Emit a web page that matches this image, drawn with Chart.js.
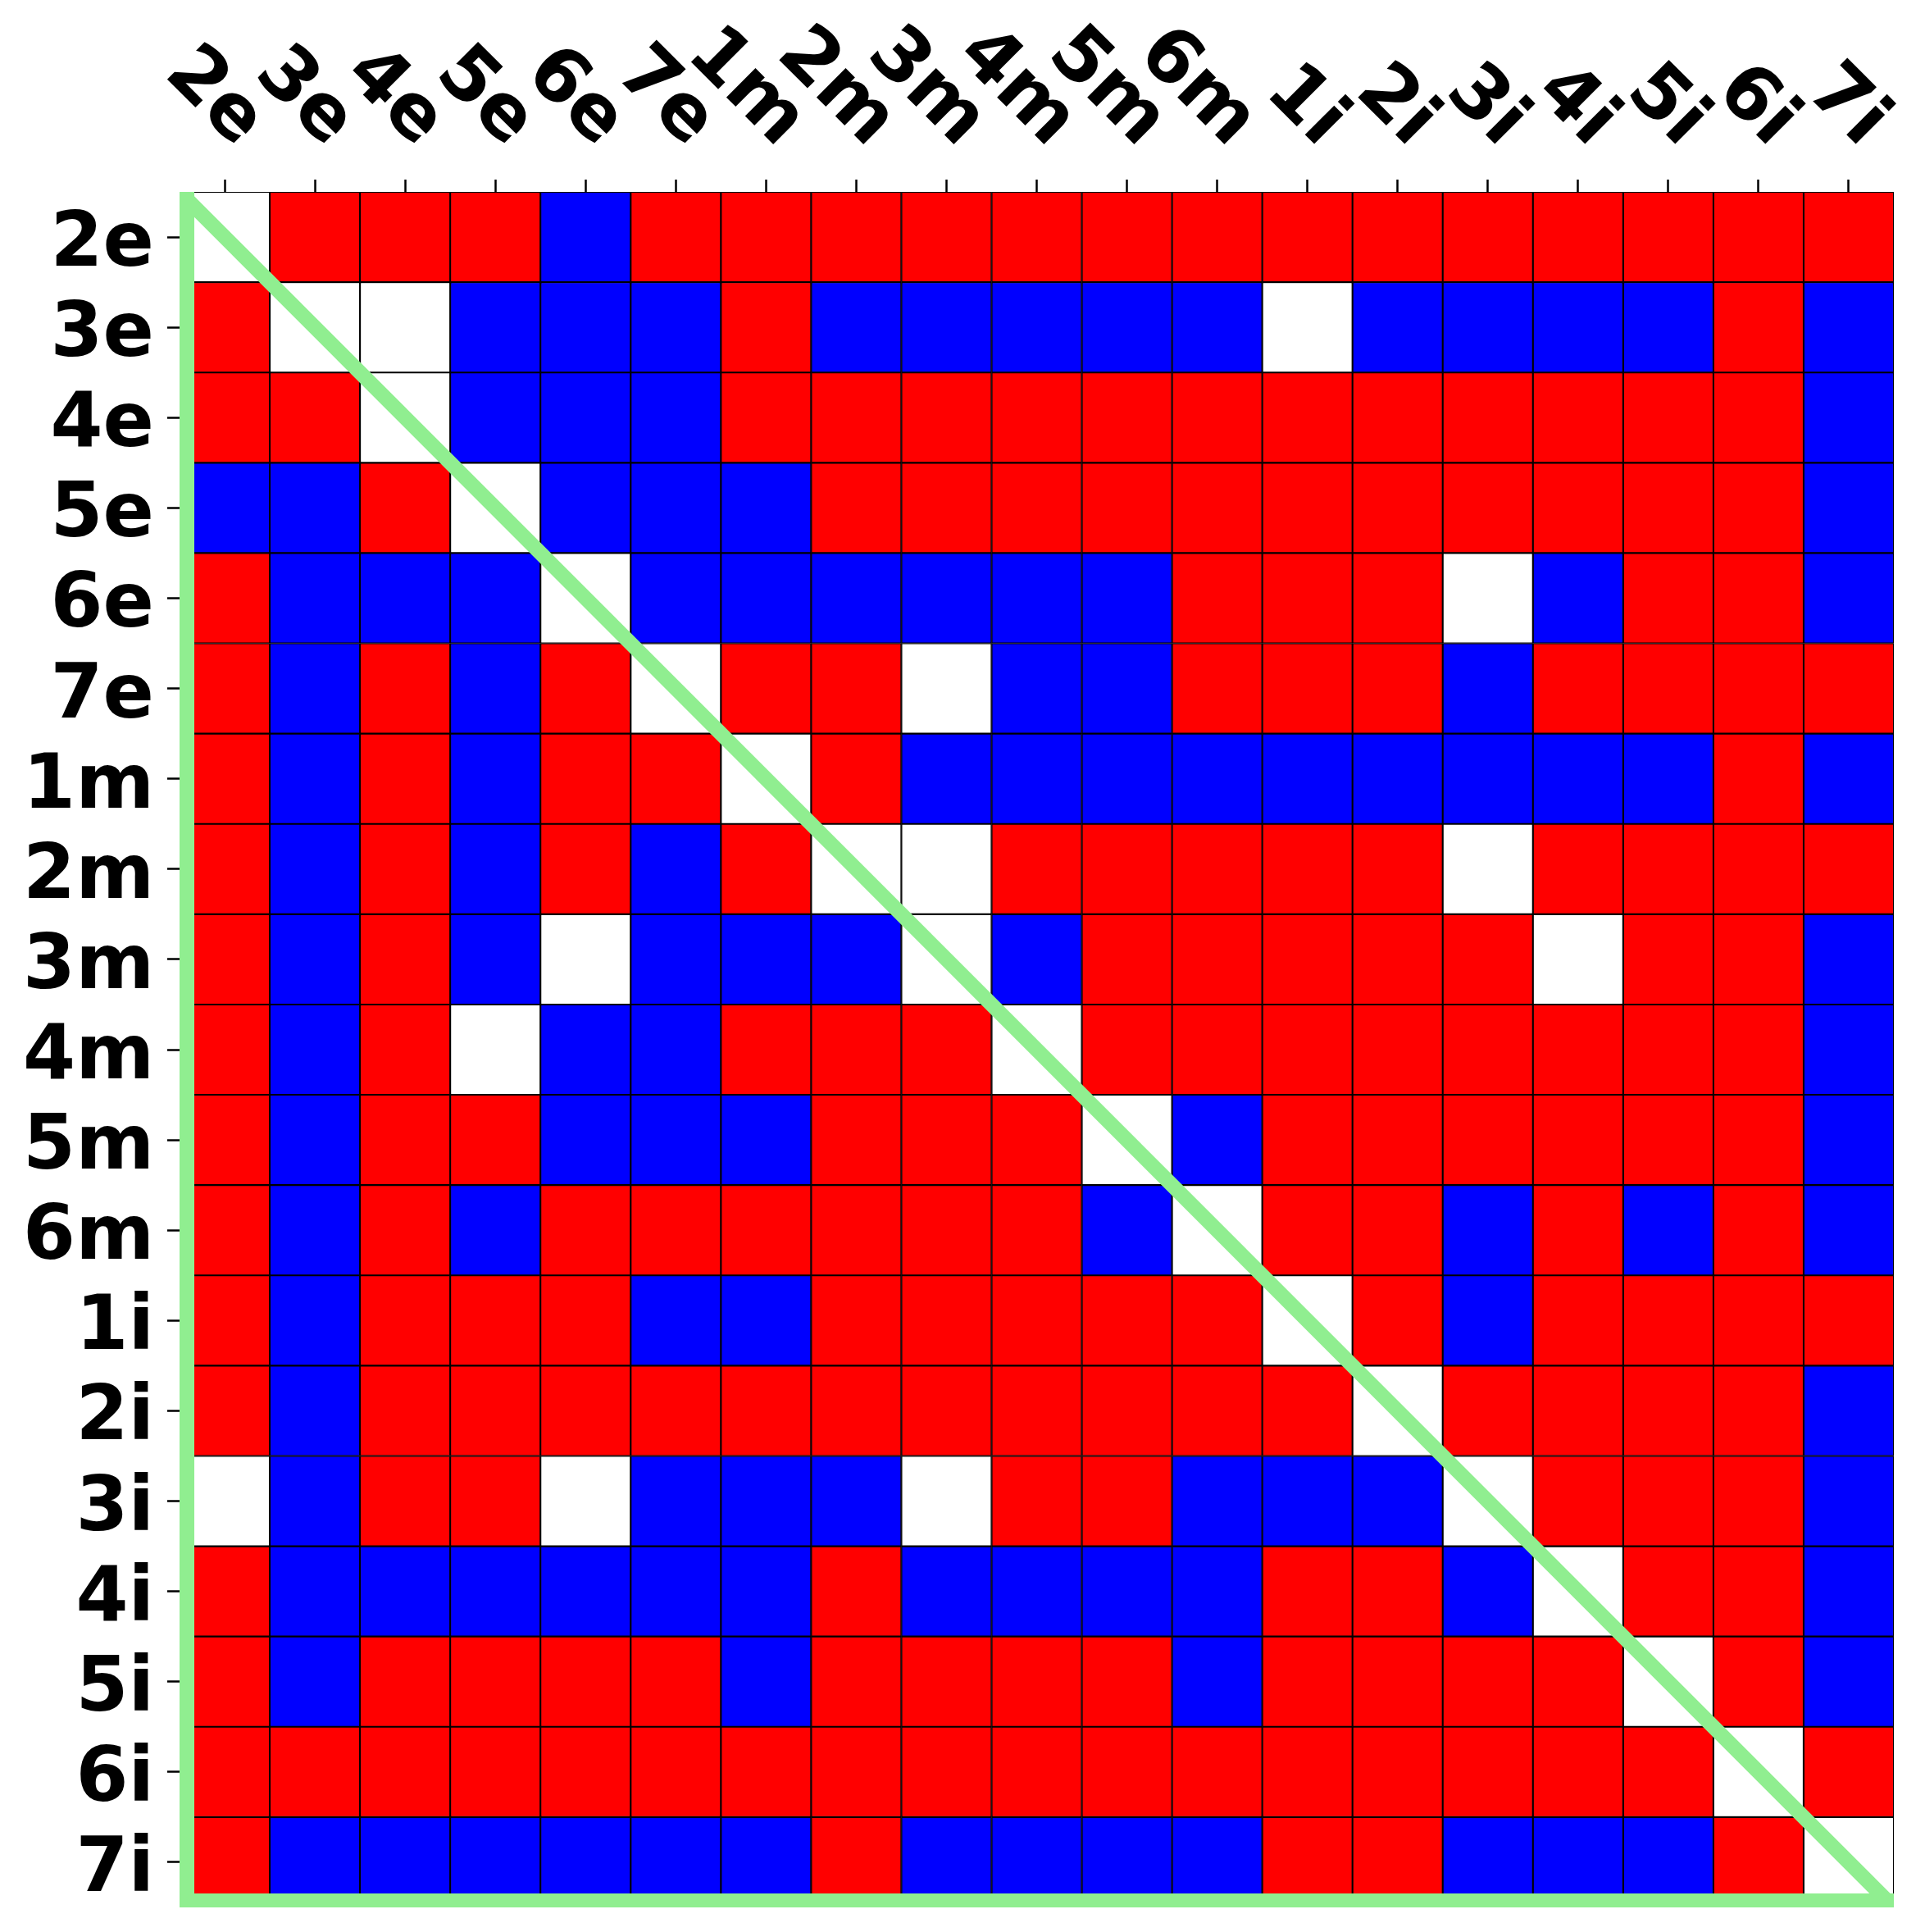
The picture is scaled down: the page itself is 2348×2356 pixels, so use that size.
<!DOCTYPE html>
<html>
<head>
<meta charset="utf-8">
<script src="https://cdn.jsdelivr.net/npm/chart.js@4/dist/chart.umd.min.js"></script>
<style>
  html, body { margin: 0; padding: 0; background: #ffffff; }
  #wrap { width: 2348px; height: 2356px; }
</style>
</head>
<body>
<div id="wrap"><canvas id="c" width="2348" height="2356"></canvas></div>
<script>
// Category labels (same for rows and columns)
const categories = ['2e','3e','4e','5e','6e','7e','1m','2m','3m','4m','5m','6m','1i','2i','3i','4i','5i','6i','7i'];

// Cell codes: 1 = red, -1 = blue, 0 = white (empty)
const matrix = [
  /* 2e */ [ 0, 1, 1, 1,-1, 1, 1, 1, 1, 1, 1, 1, 1, 1, 1, 1, 1, 1, 1],
  /* 3e */ [ 1, 0, 0,-1,-1,-1, 1,-1,-1,-1,-1,-1, 0,-1,-1,-1,-1, 1,-1],
  /* 4e */ [ 1, 1, 0,-1,-1,-1, 1, 1, 1, 1, 1, 1, 1, 1, 1, 1, 1, 1,-1],
  /* 5e */ [-1,-1, 1, 0,-1,-1,-1, 1, 1, 1, 1, 1, 1, 1, 1, 1, 1, 1,-1],
  /* 6e */ [ 1,-1,-1,-1, 0,-1,-1,-1,-1,-1,-1, 1, 1, 1, 0,-1, 1, 1,-1],
  /* 7e */ [ 1,-1, 1,-1, 1, 0, 1, 1, 0,-1,-1, 1, 1, 1,-1, 1, 1, 1, 1],
  /* 1m */ [ 1,-1, 1,-1, 1, 1, 0, 1,-1,-1,-1,-1,-1,-1,-1,-1,-1, 1,-1],
  /* 2m */ [ 1,-1, 1,-1, 1,-1, 1, 0, 0, 1, 1, 1, 1, 1, 0, 1, 1, 1, 1],
  /* 3m */ [ 1,-1, 1,-1, 0,-1,-1,-1, 0,-1, 1, 1, 1, 1, 1, 0, 1, 1,-1],
  /* 4m */ [ 1,-1, 1, 0,-1,-1, 1, 1, 1, 0, 1, 1, 1, 1, 1, 1, 1, 1,-1],
  /* 5m */ [ 1,-1, 1, 1,-1,-1,-1, 1, 1, 1, 0,-1, 1, 1, 1, 1, 1, 1,-1],
  /* 6m */ [ 1,-1, 1,-1, 1, 1, 1, 1, 1, 1,-1, 0, 1, 1,-1, 1,-1, 1,-1],
  /* 1i */ [ 1,-1, 1, 1, 1,-1,-1, 1, 1, 1, 1, 1, 0, 1,-1, 1, 1, 1, 1],
  /* 2i */ [ 1,-1, 1, 1, 1, 1, 1, 1, 1, 1, 1, 1, 1, 0, 1, 1, 1, 1,-1],
  /* 3i */ [ 0,-1, 1, 1, 0,-1,-1,-1, 0, 1, 1,-1,-1,-1, 0, 1, 1, 1,-1],
  /* 4i */ [ 1,-1,-1,-1,-1,-1,-1, 1,-1,-1,-1,-1, 1, 1,-1, 0, 1, 1,-1],
  /* 5i */ [ 1,-1, 1, 1, 1, 1,-1, 1, 1, 1, 1,-1, 1, 1, 1, 1, 0, 1,-1],
  /* 6i */ [ 1, 1, 1, 1, 1, 1, 1, 1, 1, 1, 1, 1, 1, 1, 1, 1, 1, 0, 1],
  /* 7i */ [ 1,-1,-1,-1,-1,-1,-1, 1,-1,-1,-1,-1, 1, 1,-1,-1,-1, 1, 0]
];

const cellColors = { '1': '#ff0000', '-1': '#0000ff', '0': '#ffffff' };
const labelFont = 'bold 92px "DejaVu Sans"';
const green = '#90ee90';

const datasets = categories.map((rowLabel, r) => ({
  label: rowLabel,
  data: categories.map(() => [r - 0.5, r + 0.5]),
  backgroundColor: matrix[r].map(v => cellColors[String(v)]),
  borderColor: '#000000',
  borderWidth: 1.4,
  borderSkipped: false,
  barPercentage: 1,
  categoryPercentage: 1,
  grouped: false
}));

const overlay = {
  id: 'overlay',
  afterDraw(chart) {
    const { ctx, chartArea: a, scales } = chart;
    ctx.save();
    // green triangle outline
    ctx.fillStyle = green;
    ctx.fillRect(a.left, a.top, 18, a.bottom - a.top);
    ctx.fillRect(a.left, a.bottom - 17, a.right - a.left, 17);
    ctx.beginPath();
    ctx.rect(a.left, a.top, a.right - a.left, a.bottom - a.top);
    ctx.clip();
    ctx.strokeStyle = green;
    ctx.lineWidth = 18;
    ctx.beginPath();
    ctx.moveTo(a.left, a.top);
    ctx.lineTo(a.right, a.bottom);
    ctx.stroke();
    ctx.restore();

    // labels
    ctx.save();
    ctx.fillStyle = '#000000';
    ctx.font = labelFont;
    // y labels (left)
    ctx.textAlign = 'right';
    ctx.textBaseline = 'alphabetic';
    categories.forEach((lab, i) => {
      const y = scales.y.getPixelForValue(i);
      ctx.fillText(lab, a.left - 31, y + 35);
    });
    // x labels (top, rotated 45deg clockwise)
    categories.forEach((lab, i) => {
      const x = scales.x.getPixelForValue(i);
      ctx.save();
      ctx.translate(x + 14, a.top - 53);
      ctx.rotate(Math.PI / 4);
      ctx.textAlign = 'right';
      ctx.textBaseline = 'alphabetic';
      ctx.fillText(lab, 0, 0);
      ctx.restore();
    });
    ctx.restore();
  }
};

const tickGrid = {
  display: true,
  offset: false,
  drawOnChartArea: false,
  drawTicks: true,
  tickLength: 15,
  tickWidth: 2.5,
  tickColor: '#000000'
};

new Chart(document.getElementById('c'), {
  type: 'bar',
  data: { labels: categories, datasets },
  options: {
    responsive: false,
    animation: false,
    devicePixelRatio: 1,
    layout: { padding: { left: 204, top: 219, right: 38, bottom: 30 } },
    plugins: { legend: { display: false }, tooltip: { enabled: false } },
    scales: {
      x: {
        type: 'category',
        position: 'top',
        offset: true,
        grid: tickGrid,
        border: { display: false },
        ticks: { display: false }
      },
      y: {
        type: 'linear',
        min: -0.5,
        max: 18.5,
        reverse: true,
        afterBuildTicks: s => { s.ticks = categories.map((_, i) => ({ value: i })); },
        grid: tickGrid,
        border: { display: false },
        ticks: { display: false }
      }
    }
  },
  plugins: [overlay]
});
</script>
</body>
</html>
